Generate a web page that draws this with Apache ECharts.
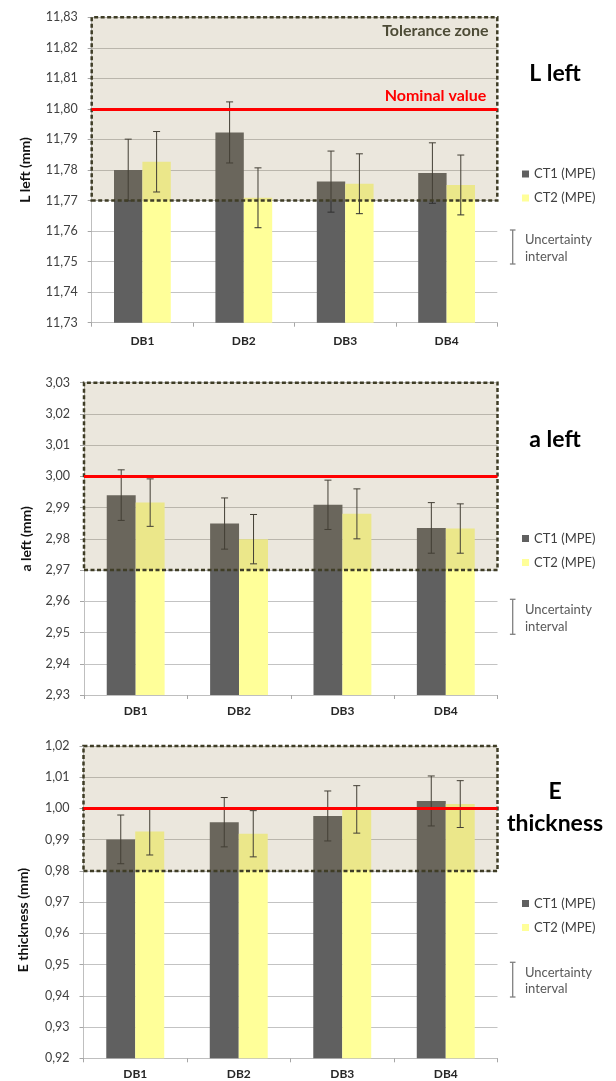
<!DOCTYPE html>
<html>
<head>
<meta charset="utf-8">
<script src="https://cdn.jsdelivr.net/npm/echarts@6/dist/echarts.min.js"></script>
<style>
html,body{margin:0;padding:0;background:#fff;}
#chart{width:616px;height:1081px;}
</style>
</head>
<body>
<div id="chart"></div>
<script>
// ---------- DATA ----------
const categories = ['DB1', 'DB2', 'DB3', 'DB4'];
const seriesNames = ['CT1 (MPE)', 'CT2 (MPE)'];

const lLeftCT1 = [11.7800, 11.7923, 11.7762, 11.7790];
const lLeftCT1Err = [0.0101, 0.0100, 0.0100, 0.0099];
const lLeftCT2 = [11.7827, 11.7709, 11.7755, 11.7751];
const lLeftCT2Err = [0.0099, 0.0098, 0.0098, 0.0098];

const aLeftCT1 = [2.9940, 2.9849, 2.9909, 2.9835];
const aLeftCT1Err = [0.0081, 0.0082, 0.0079, 0.0081];
const aLeftCT2 = [2.9916, 2.9799, 2.9880, 2.9833];
const aLeftCT2Err = [0.0076, 0.0079, 0.0080, 0.0079];

const eThickCT1 = [0.9901, 0.9956, 0.9976, 1.0024];
const eThickCT1Err = [0.0078, 0.0079, 0.0080, 0.0080];
const eThickCT2 = [0.9926, 0.9919, 0.9997, 1.0014];
const eThickCT2Err = [0.0075, 0.0074, 0.0076, 0.0075];

const nominalValues = [11.80, 2.9996, 1.00];
const toleranceZones = [[11.77, 11.83], [2.97, 3.03], [0.98, 1.02]];
const axisRanges = [[11.73, 11.83], [2.93, 3.03], [0.92, 1.02]];
const axisInterval = 0.01;
const axisNames = ['L left (mm)', 'a left (mm)', 'E thickness (mm)'];
const chartTitles = ['L left', 'a left', 'E\nthickness'];
const zoneLabel = 'Tolerance zone';
const nominalLabel = 'Nominal value';
const uncertaintyLabel = 'Uncertainty\ninterval';

// ---------- LAYOUT / STYLE ----------
const FONT = 'Lato, "Open Sans", sans-serif';
const COLORS = ['#606060', '#ffff99'];
const BAR_FRAC = 0.28;
const layouts = [
  {left: 91.7, width: 405.6, top: 17.3, height: 305.4, nameGap: 59, namePad: 0, labelMargin: 12,
   titleY: 74, legendTop: 162.5, uncTop: 230, uncBot: 264, uncText: 248.3},
  {left: 84, width: 413.5, top: 382.7, height: 312.3, nameGap: 51, namePad: 0, labelMargin: 10,
   titleY: 439.3, legendTop: 527, uncTop: 599.3, uncBot: 634.3, uncText: 618.6},
  {left: 83.5, width: 414, top: 746, height: 312.3, nameGap: 53, namePad: 36, labelMargin: 10,
   titleY: 807.5, legendTop: 892, uncTop: 962.3, uncBot: 997, uncText: 980.8}
];

const chartData = [
  [[lLeftCT1, lLeftCT1Err], [lLeftCT2, lLeftCT2Err]],
  [[aLeftCT1, aLeftCT1Err], [aLeftCT2, aLeftCT2Err]],
  [[eThickCT1, eThickCT1Err], [eThickCT2, eThickCT2Err]]
];

const fmt = v => v.toFixed(2).replace('.', ',');

const grids = [], xAxes = [], yAxes = [], series = [], legends = [], graphics = [];

layouts.forEach((L, g) => {
  grids.push({left: L.left, top: L.top, width: L.width, height: L.height, containLabel: false});
  xAxes.push({
    type: 'category', gridIndex: g, data: categories,
    axisLine: {lineStyle: {color: '#bfbfbf', width: 1}},
    axisTick: {show: true, length: 4, lineStyle: {color: '#a6a6a6'}},
    axisLabel: {fontFamily: FONT, fontSize: 12, fontWeight: 'bold', color: '#262626', margin: L.labelMargin}
  });
  yAxes.push({
    type: 'value', gridIndex: g, min: axisRanges[g][0], max: axisRanges[g][1], interval: axisInterval,
    name: axisNames[g], nameLocation: 'middle', nameRotate: 90, nameGap: L.nameGap,
    nameTextStyle: {fontFamily: FONT, fontSize: 14, fontWeight: 'bold', color: '#111',
      padding: [0, L.namePad, 0, 0]},
    axisLine: {show: true, lineStyle: {color: '#bfbfbf', width: 1}},
    axisTick: {show: true, length: 4, lineStyle: {color: '#a6a6a6'}},
    splitLine: {show: true, lineStyle: {color: '#c3c3c3', width: 1}},
    axisLabel: {fontFamily: FONT, fontSize: 12.5, color: '#404040', margin: 14, formatter: fmt}
  });

  chartData[g].forEach((pair, s) => {
    const bar = {
      name: seriesNames[s], type: 'bar', xAxisIndex: g, yAxisIndex: g,
      data: pair[0], barWidth: (BAR_FRAC * 100) + '%', barGap: '0%',
      itemStyle: {color: COLORS[s]}, z: 2, silent: true
    };
    if (s === 1) {
      bar.markArea = {
        z: 4, silent: true,
        itemStyle: {color: 'rgba(148,130,76,0.19)', borderColor: '#3f3d26', borderWidth: 2.5, borderType: [4, 2.5]},
        label: g === 0 ? {show: true, position: 'insideTopRight', distance: 7, offset: [-3, 0],
          fontFamily: FONT, fontSize: 16, fontWeight: 'bold', color: '#4d4b36'} : {show: false},
        data: [[{yAxis: toleranceZones[g][1], name: g === 0 ? zoneLabel : ''}, {yAxis: toleranceZones[g][0]}]]
      };
      bar.markLine = {
        z: 5, silent: true, symbol: 'none',
        lineStyle: {color: '#ff0000', width: 3, type: 'solid'},
        label: g === 0 ? {show: true, position: 'insideEndTop', distance: [11, 5], formatter: nominalLabel,
          fontFamily: FONT, fontSize: 16, fontWeight: 'bold', color: '#ff0000'} : {show: false},
        data: [{yAxis: nominalValues[g]}]
      };
    }
    series.push(bar);
    const sign = s === 0 ? -1 : 1;
    series.push({
      name: seriesNames[s] + ' error', type: 'custom', xAxisIndex: g, yAxisIndex: g, z: 3, silent: true,
      encode: {x: 0, y: 1},
      data: pair[0].map((v, i) => [i, v, pair[1][i]]),
      renderItem: function (params, api) {
        const ci = api.value(0), v = api.value(1), e = api.value(2);
        const bw = api.size([1, 0])[0] * BAR_FRAC;
        const top = api.coord([ci, v + e]);
        const bot = api.coord([ci, v - e]);
        const x = top[0] + sign * bw / 2;
        const c = 3.5;
        const st = {stroke: '#303030', lineWidth: 1};
        return {type: 'group', children: [
          {type: 'line', shape: {x1: x, y1: top[1], x2: x, y2: bot[1]}, style: st},
          {type: 'line', shape: {x1: x - c, y1: top[1], x2: x + c, y2: top[1]}, style: st},
          {type: 'line', shape: {x1: x - c, y1: bot[1], x2: x + c, y2: bot[1]}, style: st}
        ]};
      }
    });
  });

  legends.push({
    data: seriesNames, orient: 'vertical', left: 517, top: L.legendTop,
    icon: 'rect', itemWidth: 7, itemHeight: 7, itemGap: 11,
    textStyle: {fontFamily: FONT, fontSize: 13, color: '#404040'},
    selectedMode: false
  });

  // chart title
  graphics.push({
    type: 'text', x: 555, y: L.titleY, z: 10,
    style: {text: chartTitles[g], fontFamily: FONT, fontSize: 23, fontWeight: 'bold', fill: '#000',
      align: 'center', verticalAlign: 'middle', lineHeight: 31.6}
  });
  // uncertainty-interval key
  const ux = 512.7, uc = 2.8;
  graphics.push({type: 'group', z: 10, children: [
    {type: 'line', shape: {x1: ux, y1: L.uncTop, x2: ux, y2: L.uncBot}, style: {stroke: '#808080', lineWidth: 1.3}},
    {type: 'line', shape: {x1: ux - uc, y1: L.uncTop, x2: ux + uc, y2: L.uncTop}, style: {stroke: '#808080', lineWidth: 1.3}},
    {type: 'line', shape: {x1: ux - uc, y1: L.uncBot, x2: ux + uc, y2: L.uncBot}, style: {stroke: '#808080', lineWidth: 1.3}},
    {type: 'text', x: 525, y: L.uncText, style: {text: uncertaintyLabel, fontFamily: FONT, fontSize: 13,
      fill: '#595959', align: 'left', verticalAlign: 'middle', lineHeight: 16.7}}
  ]});
});

const chart = echarts.init(document.getElementById('chart'), null, {renderer: 'canvas'});
chart.setOption({
  backgroundColor: '#ffffff',
  animation: false,
  textStyle: {fontFamily: FONT},
  grid: grids, xAxis: xAxes, yAxis: yAxes, series: series, legend: legends, graphic: graphics
});
</script>
</body>
</html>
